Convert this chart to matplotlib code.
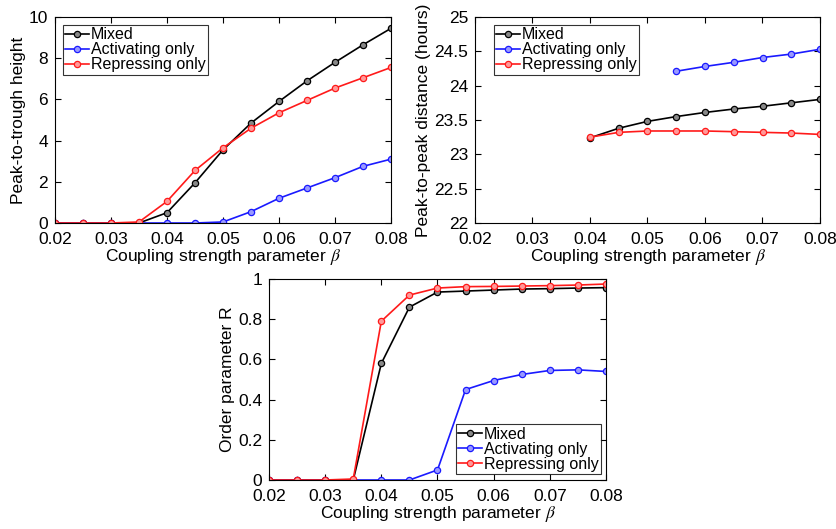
import numpy as np
import matplotlib.pyplot as plt

plt.rcParams['font.family'] = ['Liberation Sans', 'DejaVu Sans']
plt.rcParams['font.size'] = 12.5
plt.rcParams['mathtext.fontset'] = 'stix'

beta = [0.02, 0.025, 0.03, 0.035, 0.04, 0.045, 0.05, 0.055, 0.06, 0.065, 0.07, 0.075, 0.08]

# peak-to-trough height
h_mixed = [0, 0, 0, 0, 0.5, 1.95, 3.55, 4.85, 5.9, 6.9, 7.8, 8.65, 9.45]
h_act = [0, 0, 0, 0, 0, 0, 0.05, 0.55, 1.2, 1.7, 2.2, 2.75, 3.1]
h_rep = [0, 0, 0, 0.05, 1.05, 2.55, 3.65, 4.6, 5.35, 5.95, 6.55, 7.05, 7.55]

# peak-to-peak distance (only where oscillating)
beta_p = [0.04, 0.045, 0.05, 0.055, 0.06, 0.065, 0.07, 0.075, 0.08]
p_mixed = [23.24, 23.38, 23.48, 23.55, 23.61, 23.66, 23.70, 23.75, 23.80]
beta_pa = [0.055, 0.06, 0.065, 0.07, 0.075, 0.08]
p_act = [24.21, 24.28, 24.34, 24.41, 24.46, 24.53]
p_rep = [23.25, 23.32, 23.34, 23.34, 23.34, 23.33, 23.32, 23.31, 23.29]

# order parameter R
r_mixed = [0, 0, 0, 0, 0.58, 0.86, 0.935, 0.94, 0.945, 0.95, 0.952, 0.955, 0.957]
r_act = [0, 0, 0, 0, 0, 0, 0.05, 0.45, 0.495, 0.525, 0.545, 0.548, 0.54]
r_rep = [0, 0, 0, 0.005, 0.79, 0.92, 0.955, 0.962, 0.963, 0.965, 0.967, 0.97, 0.975]

labels = ['Mixed', 'Activating only', 'Repressing only']
colors = ['black', '#1a1aff', '#ff1a1a']
faces = ['#888888', '#9999ff', '#ff9999']

W, H = 837, 529
fig = plt.figure(figsize=(W / 100, H / 100), dpi=100)


def make_ax(l, r, t, b):
    return fig.add_axes([l / W, 1 - b / H, (r - l) / W, (b - t) / H])


def style(ax):
    ax.tick_params(direction='in', top=True, right=True, length=4, width=0.8)
    ax.tick_params(axis='x', pad=6.5)
    ax.tick_params(axis='y', pad=5)
    ax.set_xlim(0.02, 0.08)
    ax.set_xticks(np.arange(0.02, 0.0801, 0.01))
    ax.set_xticklabels(['0.02', '0.03', '0.04', '0.05', '0.06', '0.07', '0.08'])
    ax.set_xlabel(r'Coupling strength parameter $\beta$', labelpad=0)
    for s in ax.spines.values():
        s.set_linewidth(0.8)


def line(ax, x, y, i):
    ax.plot(x, y, color=colors[i], lw=1.2, marker='o', ms=4.5,
            mfc=faces[i], mec=colors[i], mew=0.9, label=labels[i])


def legend(ax, loc, anchor):
    leg = ax.legend(loc=loc, bbox_to_anchor=anchor, frameon=True, fancybox=False,
                    edgecolor='black', handlelength=1.5, handletextpad=0.1,
                    borderpad=0.15, labelspacing=0.0, borderaxespad=0,
                    fontsize=11.5)
    leg.get_frame().set_linewidth(0.8)


# top left
ax1 = make_ax(55, 391, 17, 223)
line(ax1, beta, h_mixed, 0)
line(ax1, beta, h_act, 1)
line(ax1, beta, h_rep, 2)
style(ax1)
ax1.set_ylim(0, 10)
ax1.set_yticks([0, 2, 4, 6, 8, 10])
ax1.set_ylabel('Peak-to-trough height', labelpad=2)
legend(ax1, 'upper left', (0.024, 0.962))

# top right
ax2 = make_ax(475, 820, 17, 223)
line(ax2, beta_p, p_mixed, 0)
line(ax2, beta_pa, p_act, 1)
line(ax2, beta_p, p_rep, 2)
style(ax2)
ax2.set_ylim(22, 25)
ax2.set_yticks([22, 22.5, 23, 23.5, 24, 24.5, 25])
ax2.set_yticklabels(['22', '22.5', '23', '23.5', '24', '24.5', '25'])
ax2.set_ylabel('Peak-to-peak distance (hours)', labelpad=2)
legend(ax2, 'upper left', (0.055, 0.962))

# bottom
ax3 = make_ax(269, 606, 279, 480)
line(ax3, beta, r_mixed, 0)
line(ax3, beta, r_act, 1)
line(ax3, beta, r_rep, 2)
style(ax3)
ax3.set_ylim(0, 1)
ax3.set_yticks([0, 0.2, 0.4, 0.6, 0.8, 1])
ax3.set_yticklabels(['0', '0.2', '0.4', '0.6', '0.8', '1'])
ax3.set_ylabel('Order parameter R', labelpad=2)
legend(ax3, 'lower right', (0.985, 0.03))

fig.savefig('out.png', dpi=100)
